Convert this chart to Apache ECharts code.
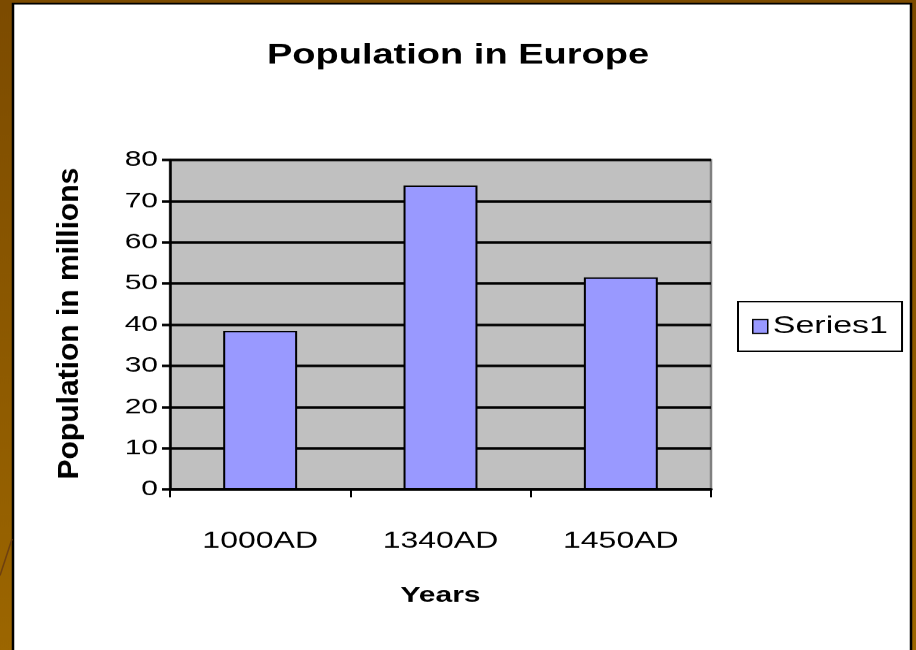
<!DOCTYPE html>
<html>
<head>
<meta charset="utf-8">
<script src="https://cdn.jsdelivr.net/npm/echarts@6/dist/echarts.min.js"></script>
<style>
  html, body { margin: 0; padding: 0; overflow: hidden; }
  /* the reference is squashed vertically, so draw tall and scale down */
  #chart { width: 916px; height: 890px; transform: scaleY(0.7303); transform-origin: 0 0; }
</style>
</head>
<body>
<div id="chart"></div>
<script>
const years = ['1000AD', '1340AD', '1450AD'];
const population = [38.5, 73.8, 51.5];
const seriesName = 'Series1';
const yTitle = 'Population in millions';

const squash = 0.7303;
const font = '"Liberation Sans", Arial, sans-serif';

const chart = echarts.init(document.getElementById('chart'), null, { renderer: 'canvas' });

const option = {
    backgroundColor: {
        type: 'linear', x: 0, y: 0, x2: 0, y2: 1,
        colorStops: [
            { offset: 0, color: '#7c4b00' },
            { offset: 1, color: '#9c6600' }
        ]
    },
    textStyle: { fontFamily: font, color: '#000' },
    graphic: [
        {
            type: 'line',
            silent: true,
            shape: { x1: 0, y1: 788, x2: 12, y2: 738 },
            style: { stroke: '#6e4010', lineWidth: 1.5 }
        },
        {
            type: 'rect',
            silent: true,
            z: -1,
            shape: { x: 13, y: 5, width: 898, height: 900 },
            style: { fill: '#fff', stroke: '#000', lineWidth: 2.5 }
        },
        {
            // y axis title, stretched back so it is not squashed along its length
            type: 'text',
            x: 70,
            y: 443,
            rotation: Math.PI / 2,
            scaleX: 1 / squash,
            style: {
                text: yTitle,
                font: 'bold 30px ' + font,
                fill: '#000',
                align: 'center',
                verticalAlign: 'middle'
            }
        }
    ],
    title: {
        text: 'Population in Europe',
        left: 'center',
        top: 53,
        textStyle: { fontFamily: font, fontSize: 38, fontWeight: 'bold', color: '#000' }
    },
    legend: {
        data: [seriesName],
        orient: 'vertical',
        left: 738,
        top: 413,
        padding: [17, 14, 17, 14],
        borderColor: '#000',
        borderWidth: 2,
        itemWidth: 15,
        itemHeight: 19,
        itemGap: 6,
        icon: 'rect',
        itemStyle: { borderColor: '#000', borderWidth: 1.5 },
        textStyle: { fontFamily: font, fontSize: 34, color: '#000' }
    },
    grid: {
        left: 170,
        top: 219,
        right: 205,
        bottom: 220,
        show: true,
        backgroundColor: '#c0c0c0',
        borderColor: '#808080',
        borderWidth: 2.5
    },
    xAxis: {
        type: 'category',
        data: years,
        name: 'Years',
        nameLocation: 'middle',
        nameGap: 131,
        nameTextStyle: { fontFamily: font, fontSize: 30, fontWeight: 'bold', color: '#000' },
        axisLine: { lineStyle: { color: '#000', width: 3.5 } },
        axisTick: { show: true, length: 11, lineStyle: { color: '#000', width: 2 } },
        axisLabel: { fontFamily: font, fontSize: 32, color: '#000', margin: 55 }
    },
    yAxis: {
        type: 'value',
        min: 0,
        max: 80,
        interval: 10,
        axisLine: { show: true, lineStyle: { color: '#000', width: 2.5 } },
        axisTick: { show: true, length: 8, lineStyle: { color: '#000', width: 3.5 } },
        axisLabel: { fontFamily: font, fontSize: 30, color: '#000', margin: 12 },
        splitLine: { show: true, lineStyle: { color: '#000', width: 3.5 } }
    },
    series: [
        {
            name: seriesName,
            type: 'bar',
            data: population,
            barWidth: '41%',
            itemStyle: { color: '#9999ff', borderColor: '#000', borderWidth: 2 }
        }
    ]
};

chart.setOption(option);
</script>
</body>
</html>
